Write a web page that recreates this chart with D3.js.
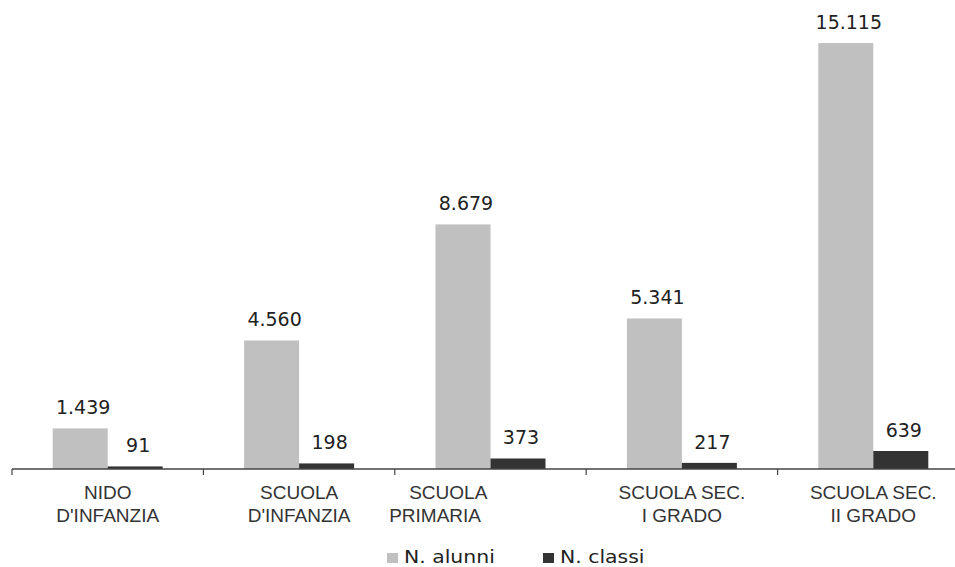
<!DOCTYPE html>
<html><head><meta charset="utf-8">
<script src="https://cdn.jsdelivr.net/npm/d3@7"></script>
<style>body{margin:0;background:#fff;} svg{display:block;}</style>
</head><body>
<svg id="c" width="955" height="567"></svg>
<script>
const categories = [
  ["NIDO", "D'INFANZIA"],
  ["SCUOLA", "D'INFANZIA"],
  ["SCUOLA\u00a0\u00a0\u00a0\u00a0\u00a0\u00a0\u00a0\u00a0\u00a0\u00a0\u00a0\u00a0\u00a0\u00a0\u00a0\u00a0", "PRIMARIA\u00a0\u00a0\u00a0\u00a0\u00a0\u00a0\u00a0\u00a0\u00a0\u00a0\u00a0\u00a0\u00a0\u00a0\u00a0\u00a0\u00a0\u00a0\u00a0\u00a0\u00a0"],
  ["SCUOLA SEC.", "I GRADO"],
  ["SCUOLA SEC.", "II GRADO"]
];
const seriesNames = ["N. alunni", "N. classi"];
const alunni = [1439, 4560, 8679, 5341, 15115];
const classi = [91, 198, 373, 217, 639];
const colors = ["#c0c0c0", "#333333"];

const svg = d3.select("#c");
const fmt = v => d3.format(",")(v).replace(/,/g, ".");
const ids = categories.map((c, i) => i);
const x0 = d3.scaleBand().domain(ids).range([12, 969]).paddingInner(0).paddingOuter(0);
const x1 = d3.scaleBand().domain(seriesNames).range([0, x0.bandwidth()]).paddingInner(0).paddingOuter(0.74);
const y = d3.scaleLinear().domain([0, 16000]).range([469, 18.1]);

const data = ids.map(i => ({i, vals: [alunni[i], classi[i]]}));

const g = svg.append("g");
const grp = g.selectAll("g.cat").data(data).join("g")
  .attr("transform", d => `translate(${x0(d.i)},0)`);
grp.selectAll("rect").data(d => d.vals.map((v, k) => ({k, v}))).join("rect")
  .attr("x", d => x1(seriesNames[d.k]))
  .attr("width", x1.bandwidth())
  .attr("y", d => y(d.v))
  .attr("height", d => y(0) - y(d.v))
  .attr("fill", d => colors[d.k]);
grp.selectAll("text.val").data(d => d.vals.map((v, k) => ({k, v}))).join("text")
  .attr("class", "val")
  .attr("x", d => x1(seriesNames[d.k]) + x1.bandwidth() / 2 + 3)
  .attr("y", d => y(d.v) - 14)
  .attr("text-anchor", "middle")
  .attr("font-family", "DejaVu Sans, Verdana, sans-serif")
  .attr("font-size", 19)
  .attr("fill", "#222")
  .text(d => fmt(d.v));

// axis
const ax = svg.append("g").attr("transform", "translate(0,469)");
ax.append("line").attr("x1", 12).attr("x2", 955).attr("y1", 0).attr("y2", 0)
  .attr("stroke", "#444").attr("stroke-width", 1.5);
const bounds = ids.map(i => x0(i)).concat([x0(ids[ids.length - 1]) + x0.bandwidth()]);
ax.selectAll("line.tick").data(bounds).join("line").attr("class", "tick")
  .attr("x1", d => d).attr("x2", d => d).attr("y1", 0).attr("y2", 6)
  .attr("stroke", "#444").attr("stroke-width", 1.2);

const lab = svg.append("g").selectAll("text").data(data).join("text")
  .attr("text-anchor", "middle")
  .attr("font-family", "Liberation Sans, Arial, sans-serif")
  .attr("font-size", 19)
  .attr("fill", "#333")
  .style("white-space", "pre");
lab.each(function(d) {
  const t = d3.select(this);
  categories[d.i].forEach((line, li) => {
    t.append("tspan").attr("x", x0(d.i) + x0.bandwidth() / 2).attr("y", 499 + li * 23).text(line);
  });
});

// legend
const legX = [387, 543];
const leg = svg.append("g").selectAll("g").data(seriesNames).join("g")
  .attr("transform", (d, k) => `translate(${legX[k]},553)`);
leg.append("rect").attr("width", 11).attr("height", 10).attr("fill", (d, k) => colors[k]);
leg.append("text").attr("transform", "translate(17,10) scale(1.2,1)")
  .attr("font-family", "DejaVu Sans, Verdana, sans-serif")
  .attr("font-size", 17).attr("fill", "#222").text(d => d);
</script>
</body></html>
